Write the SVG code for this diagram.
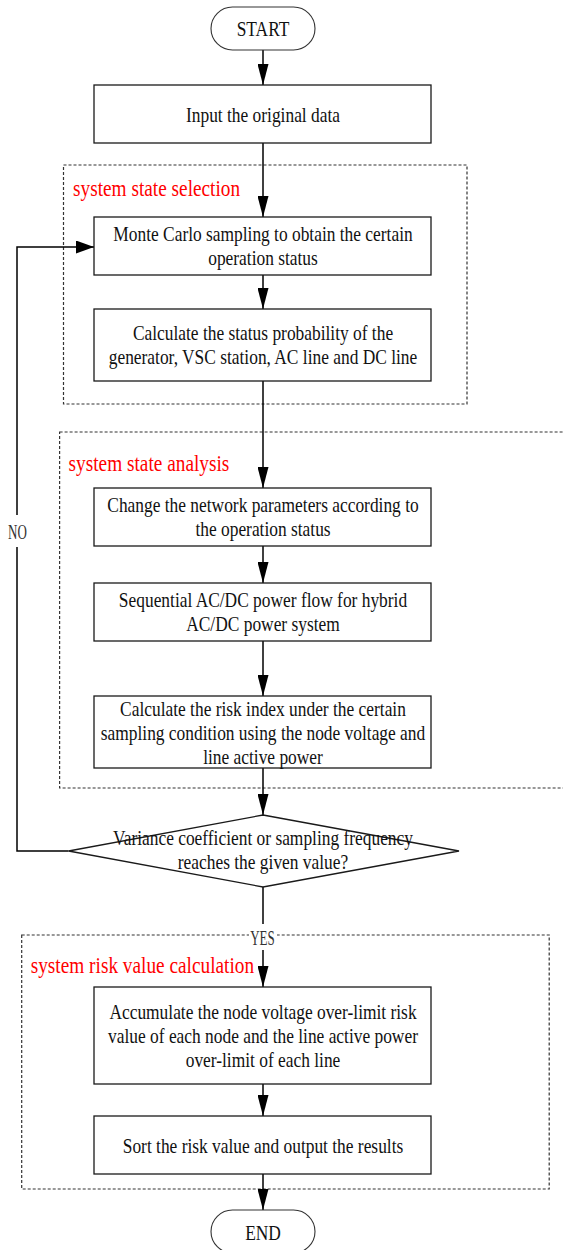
<svg xmlns="http://www.w3.org/2000/svg" width="563" height="1250" viewBox="0 0 563 1250">
<style>
.bg{fill:#ffffff}
.box{fill:#ffffff;stroke:#1a1a1a;stroke-width:1.3}
.pill{fill:#ffffff;stroke:#333333;stroke-width:1.1}
.region{fill:none;stroke:#333333;stroke-width:1.2;stroke-dasharray:3 2}
.conn{fill:none;stroke:#000000;stroke-width:1.5}
.t{font-family:"Liberation Serif","Times New Roman",serif;font-size:17.4px;text-anchor:middle;fill:#111111}
.rl{font-family:"Liberation Serif","Times New Roman",serif;font-size:19.3px;fill:#ff0000}
.lbl{font-family:"Liberation Serif","Times New Roman",serif;font-size:13px;text-anchor:middle;fill:#333333}
.lblbg{fill:#ffffff}
</style>
<defs>
<marker id="arrV" markerUnits="userSpaceOnUse" markerWidth="21" markerHeight="11" refX="21" refY="5.5" orient="auto">
<path d="M0,0 L21,5.5 L0,11 Z" fill="#000000"/>
</marker>
<marker id="arrH" markerUnits="userSpaceOnUse" markerWidth="18" markerHeight="13" refX="18" refY="6.5" orient="auto">
<path d="M0,0 L18,6.5 L0,13 Z" fill="#000000"/>
</marker>
</defs>
<rect class="bg" x="0" y="0" width="563" height="1250"/>

<g id="region-selection">
<rect class="region" x="63.5" y="165" width="403.5" height="239"/>
<text class="rl" transform="translate(73 196) scale(1 1.22)">system state selection</text>
</g>
<g id="region-analysis">
<rect class="region" x="59.6" y="432" width="560" height="356"/>
<text class="rl" transform="translate(68.6 470.7) scale(1 1.22)">system state analysis</text>
</g>
<g id="region-risk">
<rect class="region" x="21.7" y="935" width="527.5" height="254"/>
<text class="rl" transform="translate(30.7 973.3) scale(1 1.22)">system risk value calculation</text>
</g>

<g id="connectors">
<path class="conn" d="M263 50 V85" marker-end="url(#arrV)"/>
<path class="conn" d="M263 143 V217" marker-end="url(#arrV)"/>
<path class="conn" d="M263 275 V309" marker-end="url(#arrV)"/>
<path class="conn" d="M263 381 V488" marker-end="url(#arrV)"/>
<path class="conn" d="M263 546 V583" marker-end="url(#arrV)"/>
<path class="conn" d="M263 641 V696" marker-end="url(#arrV)"/>
<path class="conn" d="M263 768 V815" marker-end="url(#arrV)"/>
<path class="conn" d="M68.6 851 H17 V247 H94" marker-end="url(#arrH)"/>
<path class="conn" d="M263 887 V987" marker-end="url(#arrV)"/>
<path class="conn" d="M263 1084 V1116" marker-end="url(#arrV)"/>
<path class="conn" d="M263 1174 V1210" marker-end="url(#arrV)"/>
<g id="label-no">
<rect class="lblbg" x="8" y="515" width="19" height="32"/>
<text class="lbl" transform="translate(17.5 538.5) scale(1 1.55)">NO</text>
</g>
<g id="label-yes">
<rect class="lblbg" x="249" y="924" width="28" height="26"/>
<text class="lbl" transform="translate(262.5 945) scale(1 1.55)">YES</text>
</g>
</g>

<g id="start">
<rect class="pill" x="211" y="7" width="104" height="43" rx="21.5" ry="21.5"/>
<text class="t" transform="translate(263 35.5) scale(1 1.22)">START</text>
</g>
<g id="input">
<rect class="box" x="94" y="85" width="337" height="58"/>
<text class="t" transform="translate(263 121.7) scale(1 1.22)">Input the original data</text>
</g>
<g id="monte-carlo">
<rect class="box" x="94" y="217" width="337" height="58"/>
<text class="t" transform="translate(263 240.5) scale(1 1.22)"><tspan x="0" y="0">Monte Carlo sampling to obtain the certain</tspan><tspan x="0" y="19.9">operation status</tspan></text>
</g>
<g id="status-probability">
<rect class="box" x="94" y="309" width="337" height="72"/>
<text class="t" transform="translate(263 339.5) scale(1 1.22)"><tspan x="0" y="0">Calculate the status probability of the</tspan><tspan x="0" y="19.9">generator, VSC station, AC line and DC line</tspan></text>
</g>
<g id="change-parameters">
<rect class="box" x="94" y="488" width="337" height="58"/>
<text class="t" transform="translate(263 512) scale(1 1.22)"><tspan x="0" y="0">Change the network parameters according to</tspan><tspan x="0" y="19.9">the operation status</tspan></text>
</g>
<g id="power-flow">
<rect class="box" x="94" y="583" width="337" height="58"/>
<text class="t" transform="translate(263 607) scale(1 1.22)"><tspan x="0" y="0">Sequential AC/DC power flow for hybrid</tspan><tspan x="0" y="19.9">AC/DC power system</tspan></text>
</g>
<g id="risk-index">
<rect class="box" x="94" y="696" width="337" height="72"/>
<text class="t" transform="translate(263 715.5) scale(1 1.22)"><tspan x="0" y="0">Calculate the risk index under the certain</tspan><tspan x="0" y="19.9">sampling condition using the node voltage and</tspan><tspan x="0" y="39.8">line active power</tspan></text>
</g>
<g id="decision">
<polygon class="box" points="263,815 459,851 263,887 68.6,851"/>
<text class="t" transform="translate(263 845) scale(1 1.22)"><tspan x="0" y="0">Variance coefficient or sampling frequency</tspan><tspan x="0" y="19.9">reaches the given value?</tspan></text>
</g>
<g id="accumulate">
<rect class="box" x="94" y="987" width="337" height="97"/>
<text class="t" transform="translate(263 1018.5) scale(1 1.22)"><tspan x="0" y="0">Accumulate the node voltage over-limit risk</tspan><tspan x="0" y="19.9">value of each node and the line active power</tspan><tspan x="0" y="39.8">over-limit of each line</tspan></text>
</g>
<g id="sort">
<rect class="box" x="94" y="1116" width="337" height="58"/>
<text class="t" transform="translate(263 1153) scale(1 1.22)">Sort the risk value and output the results</text>
</g>
<g id="end">
<rect class="pill" x="211" y="1210" width="104" height="43" rx="21.5" ry="21.5"/>
<text class="t" transform="translate(263 1240) scale(1 1.22)">END</text>
</g>
</svg>
